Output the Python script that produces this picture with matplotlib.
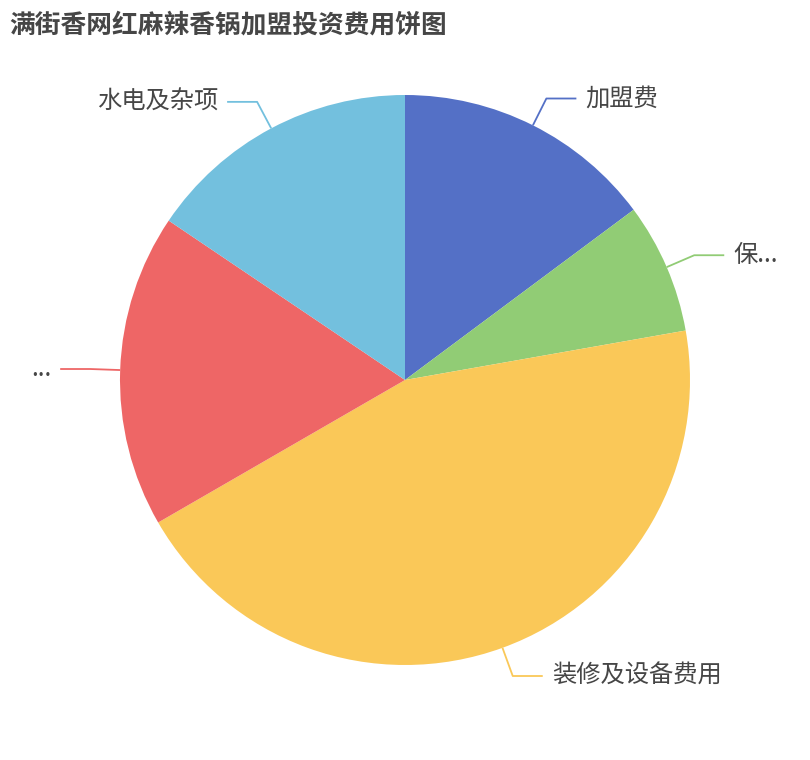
import matplotlib
matplotlib.use("Agg")
import matplotlib.pyplot as plt
import numpy as np

plt.rcParams["font.family"] = ["Noto Sans CJK SC", "DejaVu Sans"]

# data (万元)
labels = ["加盟费", "保...", "装修及设备费用", "...", "水电及杂项"]
values = [2.0, 1.0, 6.0, 2.4, 2.1]
colors = ["#5470c6", "#91cc75", "#fac858", "#ee6666", "#73c0de"]

W, H = 810, 760
fig = plt.figure(figsize=(W / 100, H / 100), dpi=100)
ax = fig.add_axes([0, 0, 1, 1])

cx, cy, r = 405, 380, 285
wedges, _ = ax.pie(values, colors=colors, startangle=90, counterclock=False,
                   center=(cx, cy), radius=r, frame=True,
                   wedgeprops=dict(linewidth=0))
ax.set_xlim(0, W)
ax.set_ylim(0, H)
ax.set_aspect("equal")
ax.axis("off")

len1, len2, gap = 30, 30, 9
for w, lab, col in zip(wedges, labels, colors):
    mid = np.deg2rad((w.theta1 + w.theta2) / 2)
    ux, uy = np.cos(mid), np.sin(mid)
    x0, y0 = cx + r * ux, cy + r * uy
    x1, y1 = cx + (r + len1) * ux, cy + (r + len1) * uy
    side = 1 if ux >= 0 else -1
    x2 = x1 + side * len2
    ax.plot([x0, x1, x2], [y0, y1, y1], color=col, lw=1.3, solid_capstyle="butt")
    ax.text(x2 + side * gap, y1, lab, fontsize=17.5, color="#464646",
            ha="left" if side > 0 else "right", va="center")

fig.text(9 / W, 1 - 25 / H, "满街香网红麻辣香锅加盟投资费用饼图", fontsize=18.5,
         fontweight="bold", color="#464646", ha="left", va="center")

fig.savefig("out.png", dpi=100)
